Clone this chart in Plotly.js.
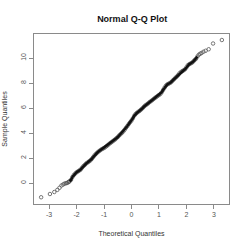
<!DOCTYPE html>
<html>
<head>
<meta charset="utf-8">
<script src="https://cdn.plot.ly/plotly-3.0.1.min.js"></script>
<style>html,body{margin:0;padding:0;background:#fff;}#chart{width:247px;height:247px;}</style>
</head>
<body>
<div id="chart"></div>
<script>
// Theoretical quantiles (x) and sample quantiles (y)
var theoretical = [
  -3.29,-2.97,-2.81,-2.70,-2.62,-2.55,-2.49,-2.44,-2.39,-2.35,-2.31,-2.28,
  -2.25,-2.20,-2.15,-2.10,-2.05,-2.00,-1.95,-1.90,-1.85,-1.80,-1.75,-1.70,
  -1.65,-1.60,-1.55,-1.50,-1.45,-1.40,-1.35,-1.30,-1.25,-1.20,-1.15,-1.10,
  -1.05,-1.00,-0.95,-0.90,-0.85,-0.80,-0.75,-0.70,-0.65,-0.60,-0.55,-0.50,
  -0.45,-0.40,-0.35,-0.30,-0.25,-0.20,-0.15,-0.10,-0.05,0.00,0.05,0.10,
  0.15,0.20,0.25,0.30,0.35,0.40,0.45,0.50,0.55,0.60,0.65,0.70,
  0.75,0.80,0.85,0.90,0.95,1.00,1.05,1.10,1.15,1.20,1.25,1.30,
  1.35,1.40,1.45,1.50,1.55,1.60,1.65,1.70,1.75,1.80,1.85,1.90,
  1.95,2.00,2.05,2.10,2.15,2.20,2.25,2.30,
  2.35,2.40,2.45,2.50,2.55,2.62,2.70,2.81,2.97,3.29
];
var sample = [
  -1.14,-0.88,-0.72,-0.55,-0.38,-0.20,-0.12,-0.05,-0.02,0.00,0.05,0.10,
  0.14,0.26,0.48,0.64,0.75,0.86,0.93,1.00,1.08,1.22,1.35,1.45,
  1.56,1.64,1.72,1.80,1.92,2.06,2.20,2.32,2.42,2.52,2.60,2.68,
  2.74,2.80,2.88,2.96,3.05,3.15,3.23,3.31,3.40,3.48,3.58,3.68,
  3.80,3.90,4.01,4.12,4.26,4.42,4.56,4.72,4.86,5.00,5.18,5.38,
  5.52,5.62,5.70,5.78,5.88,5.98,6.10,6.20,6.28,6.36,6.46,6.54,
  6.62,6.71,6.80,6.88,6.96,7.04,7.12,7.26,7.44,7.62,7.78,7.88,
  7.94,8.00,8.08,8.20,8.30,8.42,8.52,8.64,8.78,8.88,8.95,9.02,
  9.10,9.25,9.42,9.50,9.56,9.62,9.72,9.84,
  9.94,10.12,10.26,10.34,10.40,10.50,10.58,10.70,11.16,11.44
];
// index range of the densely packed (overplotted) central part
var denseStart = 12, denseEnd = 105;
var xTicks = [-3,-2,-1,0,1,2,3];
var xTickLabels = ['-3','-2','-1','0','1','2','3'];
var yTicks = [0,2,4,6,8,10];
var yTickLabels = ['0','2','4','6','8','10'];

var font = 'Liberation Sans, Arial, sans-serif';
var dense = {
  x: theoretical.slice(denseStart, denseEnd + 1), y: sample.slice(denseStart, denseEnd + 1),
  type: 'scatter', mode: 'lines', line: {color: '#111', width: 2.6}, hoverinfo: 'none'
};
var pts = {
  x: theoretical, y: sample, type: 'scatter', mode: 'markers',
  marker: {symbol: 'circle-open', size: 3.5, color: '#555', line: {width: 0.8, color: '#555'}},
  hoverinfo: 'none'
};
var axisCommon = {
  showgrid: false, zeroline: false, showline: true, mirror: true,
  linecolor: '#8a8a8a', linewidth: 1,
  ticks: 'outside', ticklen: 4, tickcolor: '#8a8a8a', tickwidth: 1,
  tickfont: {family: font, size: 7, color: '#555'},
  fixedrange: true
};
var layout = {
  width: 247, height: 247,
  margin: {l: 34, r: 18, t: 34, b: 43},
  paper_bgcolor: '#fff', plot_bgcolor: '#fff',
  showlegend: false,
  title: {text: '<b>Normal Q-Q Plot</b>', font: {family: font, size: 9, color: '#111'},
          x: 0.535, xanchor: 'center', y: 0.925, yanchor: 'middle'},
  xaxis: Object.assign({}, axisCommon, {
    range: [-3.55, 3.55], tickmode: 'array', tickvals: xTicks, ticktext: xTickLabels,
    title: {text: 'Theoretical Quantiles', font: {family: font, size: 7, color: '#333'}, standoff: 13}
  }),
  yaxis: Object.assign({}, axisCommon, {
    range: [-1.68, 11.92], tickmode: 'array', tickvals: yTicks, ticktext: yTickLabels,
    tickangle: -90,
    title: {text: 'Sample Quantiles', font: {family: font, size: 7, color: '#333'}, standoff: 11}
  })
};
Plotly.newPlot('chart', [pts, dense], layout, {displayModeBar: false, staticPlot: true});
</script>
</body>
</html>
